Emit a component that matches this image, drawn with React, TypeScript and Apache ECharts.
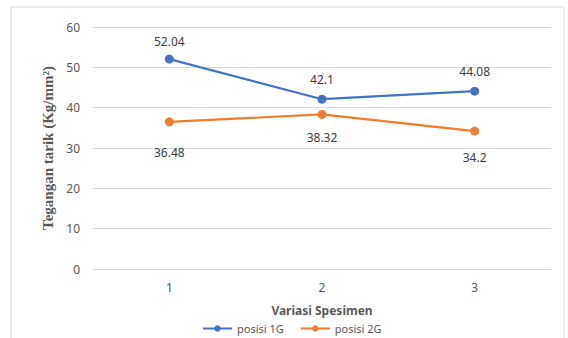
import React, { useEffect, useRef } from "react";
import * as echarts from "echarts";

const categories = ["1", "2", "3"];
const posisi1G = [52.04, 42.1, 44.08];
const posisi2G = [36.48, 38.32, 34.2];
const yTicks = { min: 0, max: 60, interval: 10 };

const blueLabelDist = [7, 9, 9];
const orangeLabelDist = [20, 13, 16];

const FONT = "'Noto Sans', 'Liberation Sans', sans-serif";

export default function App() {
  const ref = useRef<HTMLDivElement>(null);
  useEffect(() => {
    document.body.style.margin = "0";
    const chart = echarts.init(ref.current!, null, { renderer: "svg" });
    chart.setOption({
      animation: false,
      backgroundColor: "#ffffff",
      textStyle: { fontFamily: FONT },
      graphic: [
        {
          type: "rect",
          shape: { x: 11, y: 7, width: 553, height: 345 },
          style: { fill: "none", stroke: "#d9d9d9", lineWidth: 1 },
          silent: true,
          z: -1,
        },
      ],
      grid: { left: 93, right: 17, top: 27, bottom: 69 },
      legend: {
        left: 197,
        top: 318,
        itemWidth: 29,
        itemHeight: 8,
        itemGap: 16,
        textStyle: { color: "#595959", fontSize: 11, fontFamily: FONT },
        data: ["posisi 1G", "posisi 2G"],
      },
      xAxis: {
        type: "category",
        data: categories,
        boundaryGap: true,
        name: "Variasi Spesimen",
        nameLocation: "middle",
        nameGap: 35,
        nameTextStyle: { color: "#595959", fontSize: 12, fontWeight: "bold", fontFamily: FONT },
        axisLine: { show: true, lineStyle: { color: "#d9d9d9" } },
        axisTick: { show: false },
        axisLabel: { color: "#595959", fontSize: 12, margin: 12 },
      },
      yAxis: {
        type: "value",
        min: yTicks.min,
        max: yTicks.max,
        interval: yTicks.interval,
        name: "Tegangan tarik (Kg/mm²)",
        nameLocation: "middle",
        nameGap: 35,
        nameTextStyle: {
          color: "#595959",
          fontSize: 15,
          fontWeight: "bold",
          fontFamily: "'Liberation Serif', 'DejaVu Serif', serif",
        },
        axisLine: { show: false },
        axisTick: { show: false },
        axisLabel: { color: "#595959", fontSize: 12, margin: 13 },
        splitLine: { lineStyle: { color: "#d9d9d9", width: 1 } },
      },
      series: [
        {
          name: "posisi 1G",
          type: "line",
          data: posisi1G.map((v, i) => ({
            value: v,
            label: { distance: blueLabelDist[i] },
          })),
          symbol: "circle",
          symbolSize: 9,
          color: "#4472C4",
          lineStyle: { width: 2.2, color: "#4472C4" },
          label: { show: true, position: "top", color: "#404040", fontSize: 12 },
        },
        {
          name: "posisi 2G",
          type: "line",
          data: posisi2G.map((v, i) => ({
            value: v,
            label: { distance: orangeLabelDist[i] },
          })),
          symbol: "circle",
          symbolSize: 9,
          color: "#ED7D31",
          lineStyle: { width: 2.2, color: "#ED7D31" },
          label: { show: true, position: "bottom", color: "#404040", fontSize: 12 },
        },
      ],
    });
    return () => chart.dispose();
  }, []);
  return <div ref={ref} style={{ width: 568, height: 338 }} />;
}
